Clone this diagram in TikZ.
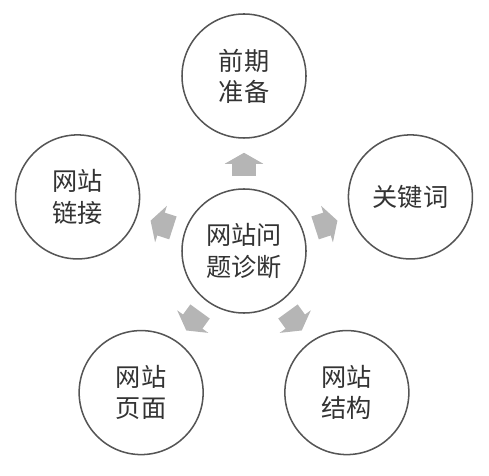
\documentclass[tikz,border=0pt]{standalone}
\usepackage{fontspec}
\setmainfont{Noto Sans CJK SC}
\usetikzlibrary{calc,arrows.meta}

\definecolor{ringline}{HTML}{555555}
\definecolor{blockgray}{HTML}{B5B5B5}
\definecolor{labeltext}{HTML}{333333}
\tikzset{
  topic/.style={circle,draw=ringline,line width=1.3pt,minimum size=3.72cm,inner sep=0pt,
    align=center,text=labeltext,font=\fontsize{21.5}{26.5}\selectfont},
  push/.style={draw=blockgray,line width=0.72cm,
    -{Triangle[width=1.14cm,length=0.33cm]},shorten <=0.36cm,shorten >=0.42cm},
}

\begin{document}
\begin{tikzpicture}[x=0.03cm,y=0.03cm]
  \useasboundingbox (0,0) rectangle (489,475);
  \node[topic] (diag) at (244,224) {网站问\\题诊断};
  \node[topic] (prep) at ($(diag)+(90:175)$) {前期\\准备};
  \node[topic] (kw)   at ($(diag)+(18:175)$) {关键词};
  \node[topic] (struct) at ($(diag)+(-54:175)$) {网站\\结构};
  \node[topic] (page) at ($(diag)+(-126:175)$) {网站\\页面};
  \node[topic] (link) at ($(diag)+(162:175)$) {网站\\链接};
  % block arrows out of the centre
  \foreach \t in {prep,kw,struct,page,link}
    \draw[push] (diag) -- (\t);
\end{tikzpicture}
\end{document}
